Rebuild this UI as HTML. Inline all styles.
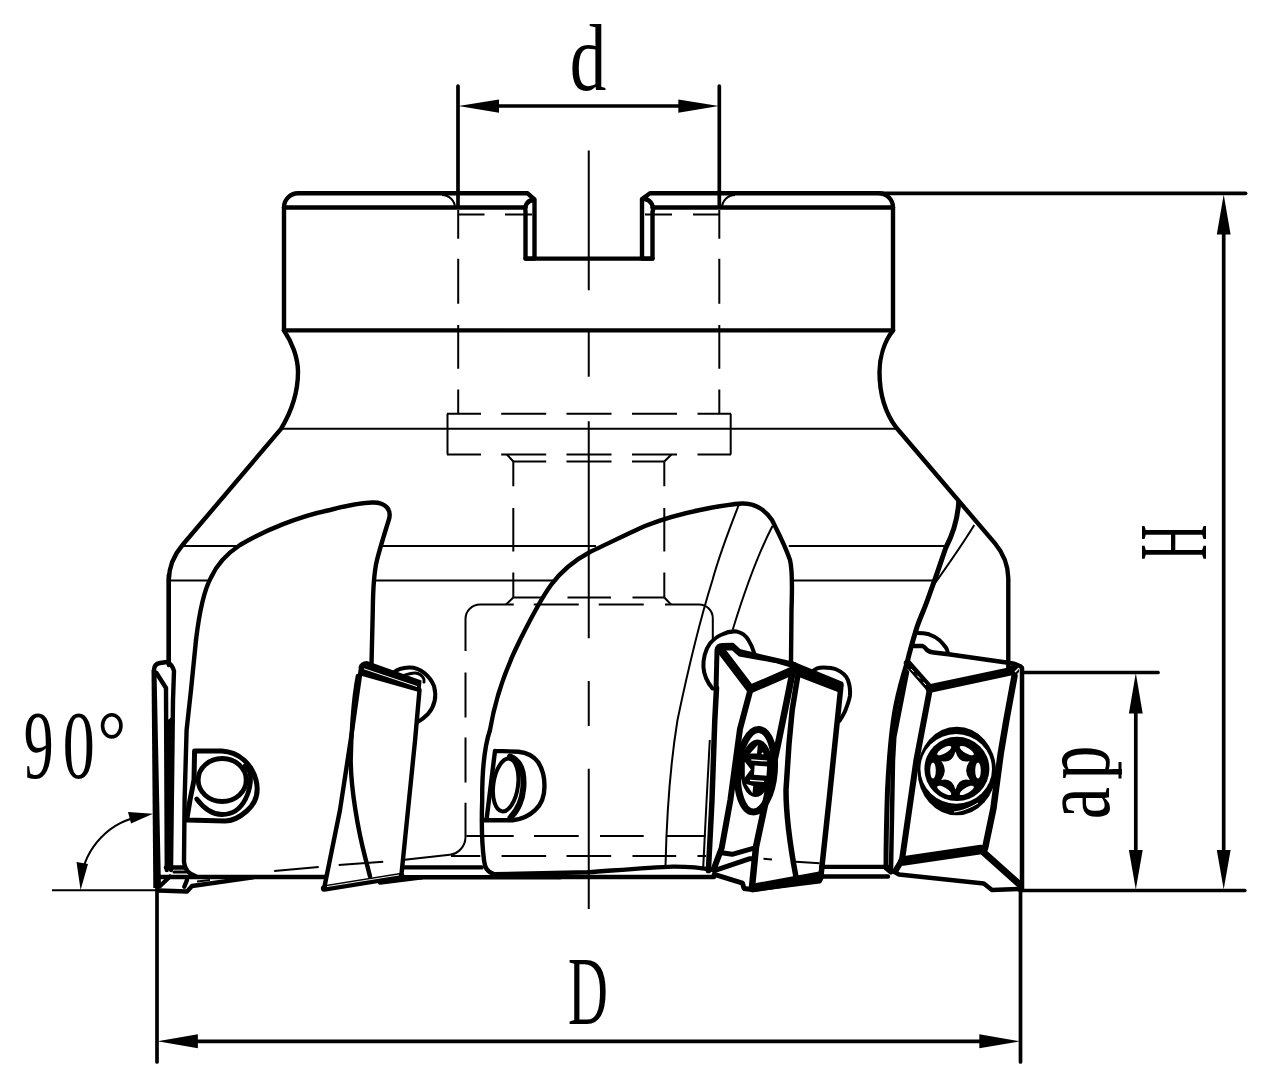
<!DOCTYPE html>
<html><head><meta charset="utf-8"><style>
html,body{margin:0;padding:0;background:#fff;width:1280px;height:1078px;overflow:hidden}
svg{display:block}
.k{fill:none;stroke:#000;stroke-width:4.4;stroke-linejoin:round;stroke-linecap:round}
.m{fill:none;stroke:#000;stroke-width:3.7;stroke-linecap:round}
.t{fill:none;stroke:#000;stroke-width:2;stroke-linecap:butt}
.f{fill:#000;stroke:none}
text{font-family:"Liberation Serif",serif;fill:#000}
</style></head><body>
<svg width="1280" height="1078" viewBox="0 0 1280 1078">
<!-- ===== dimension d ===== -->
<g id="dim-d">
<line class="m" x1="458" y1="86" x2="458" y2="207"/>
<line class="m" x1="719.3" y1="86" x2="719.3" y2="207"/>
<line class="m" x1="495" y1="106" x2="682" y2="106"/>
<path class="f" d="M458.5 106 L499 99.4 L499 112.8 Z"/>
<path class="f" d="M718.8 106 L678.3 99.4 L678.3 112.8 Z"/>
<text x="588" y="89.8" font-size="95" text-anchor="middle" transform="translate(588 0) scale(0.77 1) translate(-588 0)">d</text>
</g>
<!-- ===== dimension H ===== -->
<g id="dim-H">
<line class="m" x1="879" y1="193.3" x2="1245.5" y2="193.3" style="stroke-width:3.8"/>
<line class="m" x1="1223.7" y1="230" x2="1223.7" y2="852"/>
<path class="f" d="M1223.7 194.5 L1216.8 234.4 L1230.6 234.4 Z"/>
<path class="f" d="M1223.7 889.5 L1216.8 850 L1230.6 850 Z"/>
<text font-size="97.6" text-anchor="middle" transform="translate(1205.5 542.3) rotate(-90) scale(0.507 1)">H</text>
</g>
<!-- ===== dimension ap ===== -->
<g id="dim-ap">
<line class="m" x1="1022" y1="672.5" x2="1158" y2="672.5"/>
<line class="m" x1="1135.8" y1="710" x2="1135.8" y2="852"/>
<path class="f" d="M1135.8 673 L1128.9 713.4 L1142.7 713.4 Z"/>
<path class="f" d="M1135.8 889.5 L1128.9 850 L1142.7 850 Z"/>
<line class="m" x1="1020" y1="890.5" x2="1244.8" y2="890.5"/>
<defs><clipPath id="pc"><rect x="1040" y="700" width="82" height="140"/></clipPath></defs>
<text font-size="98.5" text-anchor="middle" transform="translate(1109 803.2) rotate(-90) scale(0.736 1)">a</text>
<g clip-path="url(#pc)"><text font-size="98.5" text-anchor="middle" transform="translate(1109 762.4) rotate(-90) scale(0.69 1)">p</text></g>
<rect x="1118.5" y="762" width="3" height="16.5" fill="#000"/>
</g>
<!-- ===== dimension D ===== -->
<g id="dim-D">
<line class="m" x1="157" y1="885" x2="157" y2="1062"/>
<line class="m" x1="1020.5" y1="885" x2="1020.5" y2="1062"/>
<line class="m" x1="195" y1="1041.3" x2="982" y2="1041.3"/>
<path class="f" d="M157.5 1041.3 L197.9 1034.3 L197.9 1048.3 Z"/>
<path class="f" d="M1020 1041.3 L979.3 1034.3 L979.3 1048.3 Z"/>
<text x="588" y="1024" font-size="97.6" text-anchor="middle" transform="translate(588 0) scale(0.566 1) translate(-588 0)">D</text>
</g>
<!-- ===== 90 deg ===== -->
<g id="ang">
<line class="t" x1="52" y1="890.2" x2="160" y2="890.2"/>
<path class="t" d="M81 880 A73 73 0 0 1 143 816"/>
<path class="f" d="M80.6 890 L76.5 862 L88 864 Z"/>
<path class="f" d="M153 813.7 L128 812 L131 823.5 Z"/>
<text font-size="97" transform="translate(38.6 778.4) scale(0.615 1)" text-anchor="middle">9</text><text font-size="97" transform="translate(78.65 778.4) scale(0.66 1)" text-anchor="middle">0</text><ellipse cx="111.75" cy="725.8" rx="9.2" ry="11.1" fill="none" stroke="#000" stroke-width="3.6"/>
</g>
<!-- ===== body outline ===== -->
<g id="body">
<path class="k" d="M284 330 L284 207.5 A14 14 0 0 1 298 193.3 L527.6 193.3 L534.5 199.5 L534.5 258.6 L525.5 258.6 L525.5 211 A9 9 0 0 1 532 200"/>
<path class="k" d="M893 330 L893 207.5 A14 14 0 0 0 879 193.3 L650 193.3 L642 199 L642 258.6 L652.5 258.6 L652.5 212 A10 10 0 0 0 645 199"/>
<line class="k" x1="525.5" y1="258.6" x2="652.5" y2="258.6"/>
<line class="k" x1="284" y1="207.5" x2="525.5" y2="207.5"/>
<line class="k" x1="652.5" y1="207.5" x2="893" y2="207.5"/>
<line class="k" x1="284" y1="330.4" x2="893" y2="330.4"/>
<path class="k" d="M284 330.4 C292 342 298 358 298 372 C298 395 290 414 281 428.8 L182.5 545 C174 555 169 565 168.8 580 L168.8 665"/>
<path class="k" d="M893 330.4 C884 342 879.5 358 879.5 372 C879.5 395 886 414 896.4 427.8 L995 543.4 C1003 553 1008 563 1008.3 578 L1008.3 672"/>
</g>

<!-- ===== hidden lines ===== -->
<g id="hidden">
<path class="t" d="M458.2 210 V238.75 M458.2 258.75 V303.75 M458.2 325 V368.75 M458.2 389.5 V413.7"/>
<path class="t" d="M719.3 210 V238.75 M719.3 258.75 V303.75 M719.3 325 V368.75 M719.3 389.5 V413.7"/>
<path class="t" d="M442 195 A13 13 0 0 1 455 208 M735 195 A13 13 0 0 0 722 208"/>
<path class="t" d="M458.3 214.6 H484.5 M505 214.6 H532 M645 214.6 H672 M693 214.6 H719"/>
<path class="t" d="M447.5 413.7 V454.5 M730.7 413.7 V454.5"/>
<path class="t" d="M447 413.7 H481 M501.2 413.7 H546.2 M566.5 413.7 H611.5 M632 413.7 H677 M697.5 413.7 H731"/>
<path class="t" d="M447 454.5 H481 M501.2 454.5 H546.2 M566.5 454.5 H611.5 M632 454.5 H677 M697.5 454.5 H731"/>
<path class="t" d="M506.9 454.5 L513.3 461.5 M671.4 454.5 L664.3 461.5"/>
<path class="t" d="M513.3 461.5 H546.2 M566.5 461.5 H611.5 M632 461.5 H664.3"/>
<path class="t" d="M513.3 461.5 V486.3 M513.3 508 V551.5 M513.3 572.6 V597.5"/>
<path class="t" d="M664.3 461.5 V486.3 M664.3 508 V551.5 M664.3 572.6 V597.5"/>
<path class="t" d="M513.3 597.5 H542.5 M567.5 597.5 H611 M632.5 597.5 H664.3"/>
<path class="t" d="M513.3 597.5 L506 604.5 M664.3 597.5 L671 604.5"/>
<path class="t" d="M465.5 651 V619 A14.5 14.5 0 0 1 480 604.5 H513.75 M533.75 604.5 H578.75 M598.75 604.5 H643.75 M665 604.5 H699 A13.8 13.8 0 0 1 712.8 618.3 V639"/>
<path class="t" d="M465.5 672.5 V717.5 M465.5 737.5 V782.5 M465.5 802.8 V837.3 A18 18 0 0 1 449.8 854.8 L404.6 859.8"/>

<path class="t" d="M451 855.9 H480.3 M501.6 855.9 H546.2 M566.5 855.9 H611.2 M632.5 855.9 H676.2 M697.5 855.9 H706"/>
<path class="t" d="M466.4 836 H513.7 M534 836 H578.7 M600 836 H643.7 M666 836 H705.6"/>
<path class="t" d="M197 881.4 L210 880 M274.2 871 L318.7 866.9 M338.7 865 L383.2 861.7"/>
</g>
<!-- ===== thin solid lines ===== -->
<g id="thin">
<line class="t" x1="281" y1="428.8" x2="896.4" y2="428.8"/>
<path class="t" d="M182 546 H240 M380 546 H596 M788.75 546 H946"/>
<path class="t" d="M170 580.6 H208.75 M375 580.6 H555 M793.75 580.6 H933.5"/>
<path class="t" d="M588.75 150.4 V290.3 M588.75 330 V376.7 M588.75 421.3 V638.3 M588.75 681 V726 M588.75 768.8 V909"/>
</g>
<!-- ===== flutes ===== -->
<g id="flutes">
<path class="k" d="M196 640 C199 615 203 592 211 577.5 C218 562 228 553 240 545 C265 530 300 516 330 510 C345 506 360 503 372 502.5 C386 502 392 510 388.75 520 C385 532 380 548 377 560 C374 572 373 590 372.8 610 L371.5 664"/>
<path class="k" d="M494.4 874.3 C487 872 485 868 484 860 C482 845 481.5 820 482.2 800 C482 770 485 745 490 730 C495 700 505 670 520 640 C530 620 540 600 551 585 C562 570 575 560 590 552 C605 545 625 535 645 526 C665 518 685 513 700 510 C715 507 730 504 742 503.5 C756 503 765 510 772 520 C778 532 785 545 790 560 C793 572 792 590 791.5 610 L791 662"/>
<path class="k" d="M958.7 501.8 C958 515 955 530 945.7 548 C940 565 933 585 927.5 600 C924 610 920 618 917 627 C913 640 910 650 907 663 C903 676 899 690 896 705 C891 730 889 760 887.5 790 C886.5 820 886 845 886 868 L891 872" style="stroke-width:5"/>
<path class="t" d="M738.75 505 C725 540 718 560 712.5 580 C700 620 690 660 677.5 720 C671 760 667 800 665.5 866"/>
<path class="t" d="M772.5 526 C760 550 748 580 732.7 629.7"/>
<path class="t" d="M974.3 525 C962 545 948 565 933 586"/>
</g>

<!-- ===== insert 1 (left edge-on) ===== -->
<g id="ins1">
<path class="k" d="M154 670 Q154 664 160 663 L167 662 M167 662 Q172 664 174 671 L173 700 L171 870"/>
<path d="M151.5 670 L156.5 670 L161 888 L153.3 888 Z" class="f"/>
<path class="k" d="M156.5 673 L166 688 L166.8 870"/>
<path class="f" d="M165 722 L173.2 716 L172.8 870 L165 870 Z"/>
<path class="k" d="M168.8 575 L168.8 662"/>
<path class="k" d="M196 640 L191 690 L186.6 730 L184.6 800 L184 862 Q185 873 195.5 876"/>
<path class="k" d="M166 867.5 H184"/>
<path class="k" d="M160 877 H325"/>
<path class="k" d="M158.5 890.5 L187 891.5 L192 886 L253 877.4"/>
<path class="k" d="M159.5 886.5 L170 876.5 M184.3 886.8 L187 880"/>
<path class="k" d="M174 872 L186 872" style="stroke-width:3"/>
</g>
<!-- ===== D clamp 1 ===== -->
<g id="clamp1">
<path class="k" d="M194.6 750.9 L221.7 751 C240 752 252 765 256 780 C259 792 256 803 246.8 811 C240 817 232 821 225 821 L186.7 820.1 L190 800 L194 780 Z" style="stroke-width:5"/>
<ellipse class="k" cx="222.2" cy="780" rx="24" ry="21.5" style="stroke-width:4.8"/>
<path class="k" d="M196.7 799 C205 810 213 814.5 222 814.5 C233 814.5 241 808 245.5 799 C249.5 791 251 785 250.5 776 C250 771 248 768 245 766" style="stroke-width:4.8"/>
</g>

<!-- ===== insert 2 ===== -->
<g id="ins2">
<path class="f" d="M358.5 667 Q360 661.5 367 661 L421.5 680.5 L420.5 692.5 L362 676 Z"/>
<path d="M364 668.8 L417 686.5" stroke="#fff" stroke-width="1" fill="none"/>
<path class="k" d="M361 668 L351.7 733.5 L340 810 L324.1 888.5"/>
<path class="k" d="M419.5 690 L415.1 740 L401.3 876"/>
<path class="k" d="M324.1 888.5 L401.3 876" style="stroke-width:6.5"/>
<path d="M327 886.6 L399 875" stroke="#fff" stroke-width="0.9" fill="none"/>
<path class="k" d="M357.9 676 C353 700 351 740 350.7 760.6 C351 790 358 830 365.1 857.1 L370 876.4"/>
<path class="k" d="M394.2 672 C398 669 402 668 409 667.5 C420 667 430 676 434 686 C437 697 434 707 428 714 C424 718 421 720 418.4 721.5" style="stroke-width:4"/>
<path class="k" d="M402.6 676 C408 674 414 672 418 673.5 C422 675 425 679 424 682" style="stroke-width:3"/>
</g>
<!-- ===== bottom lines mid-left ===== -->
<g id="bot1">
<path class="k" d="M404 867.4 H481.6"/>
<path class="k" d="M401 877.2 H560"/>
<path class="k" d="M380 882.5 L422 877.2"/>
</g>

<!-- ===== middle clamp ===== -->
<g id="clamp2">
<path class="k" d="M495 750.9 L518.4 751.7 C526 752.5 533 755 538 762 C542 768 544.5 776 544.5 786 C544.5 797 541 805 535.1 810.1 C530 815 524 819 512.6 820.2 L483.4 820.2 M495 750.9 L486.5 820" />
<ellipse class="k" cx="505.7" cy="785" rx="12.3" ry="26.6" transform="rotate(8 505.7 785)" style="stroke-width:4"/>
<path class="k" d="M510 756.5 C516 759 520.5 763 522.5 772 C524.5 782 523.5 795 519.5 804 C517 810 514 814 510.5 817.5" style="stroke-width:6"/>
</g>
<!-- ===== bottom mid ===== -->
<g id="bot2">
<path class="k" d="M494.4 874.3 L587.8 872.3 C620 870 650 867.5 673 866.6 C690 866.5 700 867.5 714 870"/>
<path class="k" d="M560 877 H714"/>
</g>

<!-- ===== insert 3 + 4 (pair with screw) ===== -->
<g id="ins34">
<!-- bump 3 -->
<path class="k" d="M712.5 688.5 C707 682 704 676 703.4 667 C703 660 705 650 710 643.4 C714 639 718 636 722 634.5 C727 632 733 631 737 631.6 C742 632.5 746 636 748.4 640 C751 644 753 649 754.3 653.4" style="stroke-width:4"/>
<!-- top edge -->
<path class="k" d="M716 690 L717 650 Q718 645.5 722 645.5 L732.6 645.3 L739.3 651.5 L753.5 655 L790 663.5 L795 665" style="stroke-width:5"/>
<path class="f" d="M792 661 L843 682 Q845 686 842 691.5 L839 692.5 L797.5 676.5 L792 670 Z"/>
<path class="k" d="M724.2 649 L732.6 649 L739.3 655 L775 661.4 L791 666" style="stroke-width:3"/>
<!-- V -->
<path class="k" d="M720 649 L750.5 689 L792 671" style="stroke-width:8.5;stroke-linejoin:miter"/>
<!-- left edge -->
<path class="k" d="M716.5 688 L714.8 720 L712 800 L708.4 870.6" style="stroke-width:5.5"/>
<path class="t" d="M709.8 740 L706.6 800 L703.2 867.6"/>
<!-- B down -->
<path class="k" d="M750.5 689.5 L740 729 L730.4 800 L721.7 848 L714.3 867.6" style="stroke-width:6"/>
<!-- C down (right face edge of ins3) -->
<path class="k" d="M793 670 L787 700 L778 744 L756 847 L752 887" style="stroke-width:6.5"/>
<!-- insert 4 left edge -->
<path class="k" d="M797.8 675.5 L792.2 710 L789 744 L786 790 C786 815 790 845 795.9 876.5" style="stroke-width:5.5"/>
<!-- insert 4 top inner line -->
<!-- insert 4 right edge -->
<path class="k" d="M840.6 689 L829.1 800 L821.2 873.6" style="stroke-width:5.5"/>
<!-- bump 4 -->
<path class="k" d="M812.8 671.2 C815 669 819 667.5 823.1 667.5 C828 667.5 833 668 836.5 669.5 C842 672 846 675 847.9 680 C850 686 850.5 691 849.9 696 C849 701 847.5 705 845.5 710 C844 714 842 717 839.5 720.9" style="stroke-width:4"/>
<!-- middle flute right edge top part already; line to insert top -->
<!-- bottom of face V -->
<path class="k" d="M721.7 852.8 L732.1 854.3 L755.8 847.6" style="stroke-width:5"/>
<path class="k" d="M714.3 870.6 L749.9 858.7 L754.4 858.7" style="stroke-width:5"/>
<path class="t" d="M763.5 858.7 L772 859.5"/>
<!-- bottom edge -->
<path class="k" d="M714.3 874.3 L742.5 883.2 L744 888.4 L752 889.5 L819.6 881 L822 876" style="stroke-width:5"/>
<path class="f" d="M756 883 L819 871.5 L821.5 874 L820.5 882 L752 892.5 L748 889 Z"/>
<path class="t" d="M795.9 861.7 L819.6 863.2"/>
<path class="k" d="M821 866.9 H888 M821 876.5 H888" />
<!-- screw -->
<ellipse cx="756" cy="770.7" rx="18.3" ry="41.3" transform="rotate(4.5 756 770.7)" fill="none" stroke="#000" stroke-width="7"/>
<ellipse cx="756.4" cy="768.3" rx="16" ry="28.8" transform="rotate(3 756.4 768.3)" fill="#000"/>
<path d="M750 753.4 L757.8 745 L757 753.4 Z M754.6 765.5 L767.1 766.5 L766.5 775.7 L754 774.7 Z M744.8 761.7 L750.9 769.5 L744.8 777.5 Z M746.2 784 L753.2 786 L752.5 793.3 Z" fill="#fff"/>
<path d="M751.3 759.9 L767.1 761 M750 780.3 L764 781.3" stroke="#fff" stroke-width="1.2"/>
<circle cx="762.5" cy="753.4" r="1" fill="#fff"/>
</g>

<!-- ===== insert 5 ===== -->
<g id="ins5">
<path class="k" d="M916.9 633 C921 633 926 633.5 929 634.3 C934 636 937 638 939.2 639.9 C942 642.5 944 645 945.7 647.3 C947 649 947.5 651 948 652.9" style="stroke-width:4"/>
<path class="k" d="M914.1 646 L922.5 646 C925 647 926 649 927.1 650.1 C929 651.5 931 652.2 933.6 652.4 L948.5 654.3 L1009.9 662.9 Q1017 664 1021 667" style="stroke-width:4.5"/>
<path class="k" d="M907.6 663.1 L929.9 688.5" style="stroke-width:7.5"/><path class="k" d="M929.9 688.5 L1015 670.3" style="stroke-width:8.5"/>
<path d="M911 669 L927 686" stroke="#fff" stroke-width="1" stroke-dasharray="4 5" fill="none"/>
<path class="k" d="M1011.2 667.4 L1020.3 666.1" style="stroke-width:4"/>
<path class="k" d="M929.9 689 L916.4 760 L902 860 L896 870" style="stroke-width:6"/>
<path class="k" d="M1014.5 676 L1006.4 720 L1000.8 753 L993.4 808.5 L985 848.6" style="stroke-width:6.5"/>
<path class="k" d="M1022 668 L1022 890" style="stroke-width:4.5"/>
<path class="k" d="M907 672 L894.3 737 L893 760 L891 871" style="stroke-width:4.5"/>
<path class="k" d="M903 861 L981 849.5" style="stroke-width:9.5"/><path class="k" d="M981 850 L1019 884" style="stroke-width:7"/>
<path class="k" d="M893.5 871.5 L899 874.5 L983.8 883.4 L992 890 L1020 889" style="stroke-width:4.5"/>

<path d="M1015 672 L1019 668" stroke="#fff" stroke-width="1.5"/>
<!-- screw -->
<ellipse cx="956.8" cy="771" rx="39.2" ry="44.3" fill="#000"/>
<ellipse cx="956.2" cy="768.9" rx="35.8" ry="34.8" fill="#fff"/>
<ellipse cx="956.9" cy="768.9" rx="32.5" ry="32.2" fill="#000"/>
<path fill="#fff" d="M955.5 751.5 Q959.0 764.0 969.8 761.0 Q962.5 770.5 969.8 780.0 Q959.0 777.0 955.5 789.5 Q952.0 777.0 941.2 780.0 Q948.5 770.5 941.2 761.0 Q952.0 764.0 955.5 751.5 Z"/>
<ellipse cx="978.0" cy="770.5" rx="2.8" ry="8" transform="rotate(0.0 978.0 770.5)" fill="#fff"/><ellipse cx="966.8" cy="750.6" rx="2.8" ry="8" transform="rotate(-60.0 966.8 750.6)" fill="#fff"/><ellipse cx="944.2" cy="750.6" rx="2.8" ry="8" transform="rotate(-120.0 944.2 750.6)" fill="#fff"/><ellipse cx="933.0" cy="770.5" rx="2.8" ry="8" transform="rotate(-180.0 933.0 770.5)" fill="#fff"/><ellipse cx="944.2" cy="790.4" rx="2.8" ry="8" transform="rotate(-240.0 944.2 790.4)" fill="#fff"/><ellipse cx="966.8" cy="790.4" rx="2.8" ry="8" transform="rotate(-300.0 966.8 790.4)" fill="#fff"/>
<path d="M978 803 C970 808 962 811 954 812" stroke="#fff" stroke-width="1" fill="none"/>
</g>
</svg>
</body></html>
